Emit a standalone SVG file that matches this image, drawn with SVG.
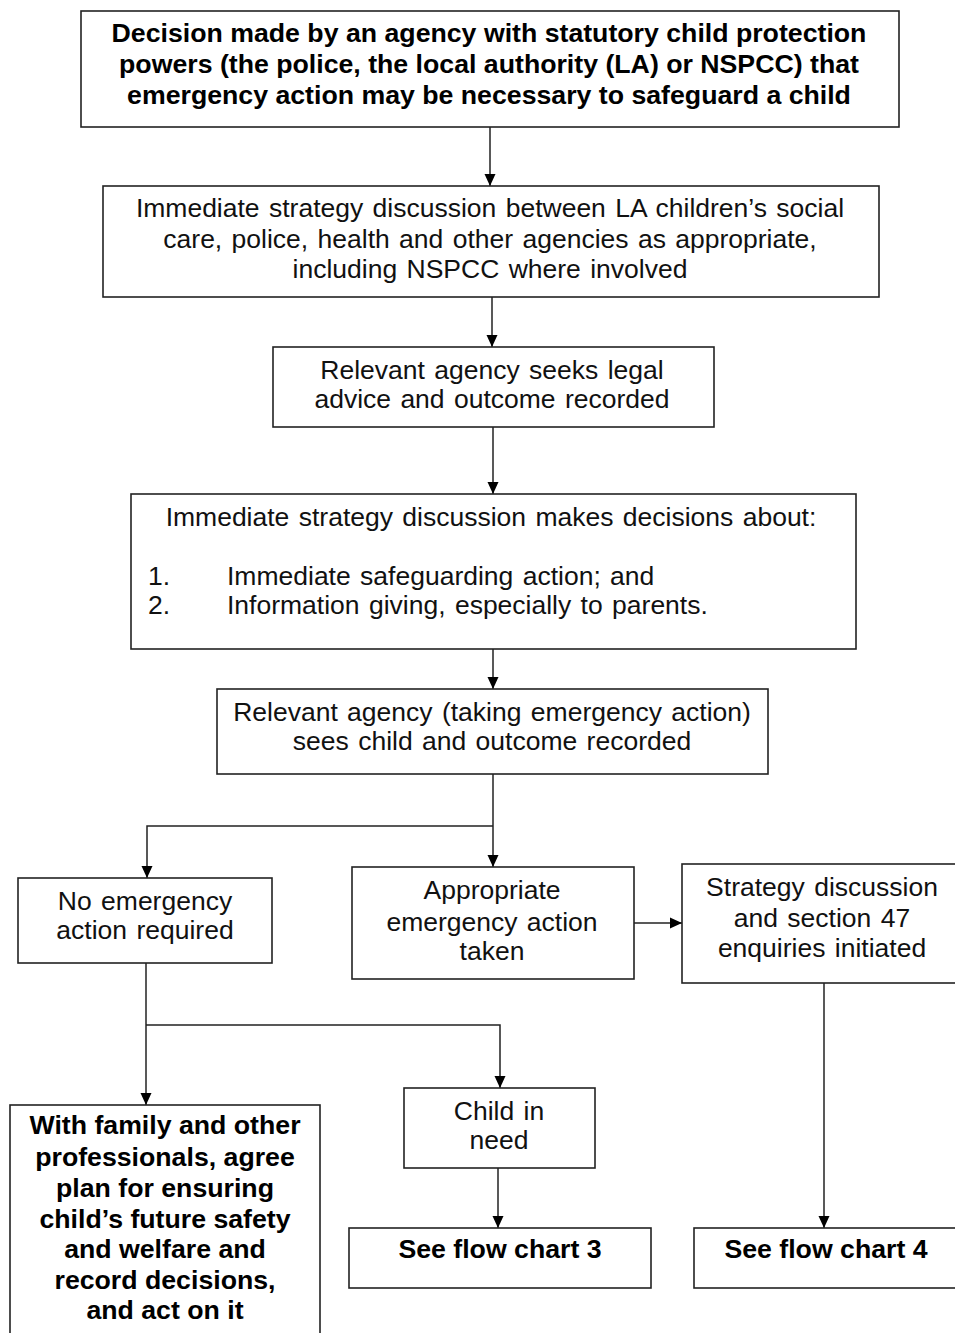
<svg xmlns="http://www.w3.org/2000/svg" width="955" height="1333" viewBox="0 0 955 1333">
<defs>
<marker id="arr" viewBox="0 0 12 12" refX="12" refY="6" markerWidth="12" markerHeight="12" markerUnits="userSpaceOnUse" orient="auto">
<path d="M0,0.5 L12,6 L0,11.5 z" fill="#000"/>
</marker>
<style>
.box{fill:#fff;stroke:#222;stroke-width:1.6}
.t{font-family:"Liberation Sans",Arial,sans-serif;font-size:26.5px;word-spacing:2px;fill:#111;text-anchor:middle}
.l{font-family:"Liberation Sans",Arial,sans-serif;font-size:26.5px;word-spacing:2px;fill:#111;text-anchor:start}
.b{font-family:"Liberation Sans",Arial,sans-serif;font-size:26.7px;font-weight:bold;fill:#000;text-anchor:middle}
.c{fill:none;stroke:#222;stroke-width:1.5}
</style>
</defs>
<rect width="955" height="1333" fill="#fff"/>
<g id="connectors">
<path class="c" d="M490,127 V186" marker-end="url(#arr)"/>
<path class="c" d="M492,297 V347" marker-end="url(#arr)"/>
<path class="c" d="M493,427 V494" marker-end="url(#arr)"/>
<path class="c" d="M493,649 V689" marker-end="url(#arr)"/>
<path class="c" d="M493,774 V867" marker-end="url(#arr)"/>
<path class="c" d="M493,826 H147 V878" marker-end="url(#arr)"/>
<path class="c" d="M634,923 H682" marker-end="url(#arr)"/>
<path class="c" d="M146,963 V1105" stroke-width="2" marker-end="url(#arr)"/>
<path class="c" d="M146,1025 H500 V1088" marker-end="url(#arr)"/>
<path class="c" d="M498,1168 V1228" marker-end="url(#arr)"/>
<path class="c" d="M824,983 V1228" stroke-width="2" marker-end="url(#arr)"/>
</g>
<g id="n1">
<rect class="box" x="81" y="11" width="818" height="116"/>
<text class="b" x="489" y="42">Decision made by an agency with statutory child protection</text>
<text class="b" x="489" y="73">powers (the police, the local authority (LA) or NSPCC) that</text>
<text class="b" x="489" y="104">emergency action may be necessary to safeguard a child</text>
</g>
<g id="n2">
<rect class="box" x="103" y="186" width="776" height="111"/>
<text class="t" x="490" y="217">Immediate strategy discussion between LA children’s social</text>
<text class="t" x="490" y="248">care, police, health and other agencies as appropriate,</text>
<text class="t" x="490" y="278">including NSPCC where involved</text>
</g>
<g id="n3">
<rect class="box" x="273" y="347" width="441" height="80"/>
<text class="t" x="492" y="379">Relevant agency seeks legal</text>
<text class="t" x="492" y="408">advice and outcome recorded</text>
</g>
<g id="n4">
<rect class="box" x="131" y="494" width="725" height="155"/>
<text class="t" x="491" y="526">Immediate strategy discussion makes decisions about:</text>
<text class="l" x="148" y="585">1.</text>
<text class="l" x="227" y="585">Immediate safeguarding action; and</text>
<text class="l" x="148" y="614">2.</text>
<text class="l" x="227" y="614">Information giving, especially to parents.</text>
</g>
<g id="n5">
<rect class="box" x="217" y="689" width="551" height="85"/>
<text class="t" x="492" y="721">Relevant agency (taking emergency action)</text>
<text class="t" x="492" y="750">sees child and outcome recorded</text>
</g>
<g id="n6">
<rect class="box" x="18" y="878" width="254" height="85"/>
<text class="t" x="145" y="910">No emergency</text>
<text class="t" x="145" y="939">action required</text>
</g>
<g id="n7">
<rect class="box" x="352" y="867" width="282" height="112"/>
<text class="t" x="492" y="899">Appropriate</text>
<text class="t" x="492" y="931">emergency action</text>
<text class="t" x="492" y="960">taken</text>
</g>
<g id="n8">
<rect class="box" x="682" y="864" width="290" height="119"/>
<text class="t" x="822" y="896">Strategy discussion</text>
<text class="t" x="822" y="927">and section 47</text>
<text class="t" x="822" y="957">enquiries initiated</text>
</g>
<g id="n9">
<rect class="box" x="10" y="1105" width="310" height="240"/>
<text class="b" x="165" y="1134">With family and other</text>
<text class="b" x="165" y="1166">professionals, agree</text>
<text class="b" x="165" y="1197">plan for ensuring</text>
<text class="b" x="165" y="1228">child’s future safety</text>
<text class="b" x="165" y="1258">and welfare and</text>
<text class="b" x="165" y="1289">record decisions,</text>
<text class="b" x="165" y="1319">and act on it</text>
</g>
<g id="n10">
<rect class="box" x="404" y="1088" width="191" height="80"/>
<text class="t" x="499" y="1120">Child in</text>
<text class="t" x="499" y="1149">need</text>
</g>
<g id="n11">
<rect class="box" x="349" y="1228" width="302" height="60"/>
<text class="b" x="500" y="1258">See flow chart 3</text>
</g>
<g id="n12">
<rect class="box" x="694" y="1228" width="280" height="60"/>
<text class="b" x="826" y="1258">See flow chart 4</text>
</g>
</svg>
